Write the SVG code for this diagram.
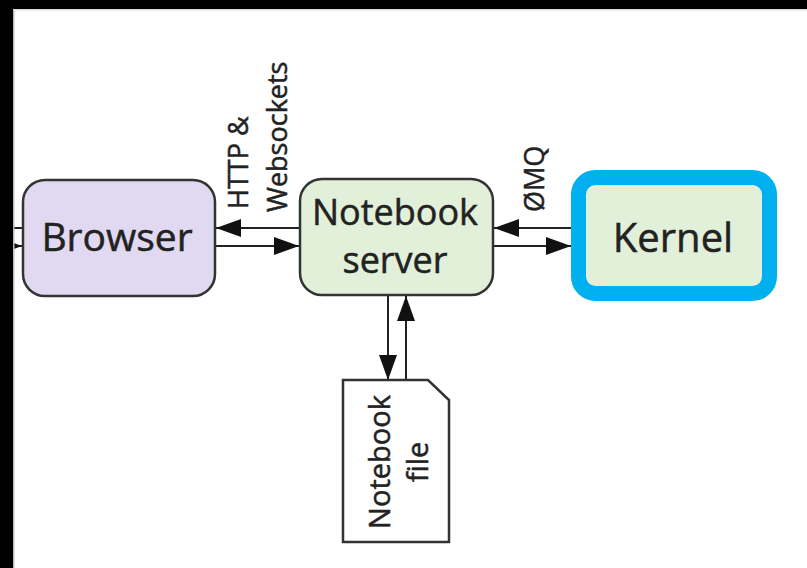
<svg xmlns="http://www.w3.org/2000/svg" width="807" height="568" viewBox="0 0 807 568">
  <style>
    text { font-family: "Open Sans", "DejaVu Sans", sans-serif; fill: #222; stroke: #222; stroke-width: 0.5; }
    .node { stroke: #333; stroke-width: 2.5; }
    .box-label { font-size: 39px; text-anchor: middle; }
    .edge-label { font-size: 27px; }
    .doc-label { font-size: 29px; text-anchor: middle; }
    .wire { stroke: #222; stroke-width: 2; fill: none; }
  </style>
  <defs>
    <marker id="arrow" viewBox="0 0 25 18" refX="25" refY="9" markerWidth="25" markerHeight="18" markerUnits="userSpaceOnUse" orient="auto">
      <path d="M0,0 L25,9 L0,18 Z" fill="#111"/>
    </marker>
  </defs>

  <rect x="0" y="0" width="807" height="568" fill="#fff"/>

  <g id="connectors">
    <!-- stubs leaving the left edge -->
    <line class="wire" x1="0" y1="228" x2="23" y2="228"/>
    <line class="wire" x1="-10" y1="246" x2="22" y2="246" marker-end="url(#arrow)"/>
    <!-- browser <-> notebook server -->
    <line class="wire" x1="300" y1="228" x2="216" y2="228" marker-end="url(#arrow)"/>
    <line class="wire" x1="215" y1="246" x2="299" y2="246" marker-end="url(#arrow)"/>
    <!-- notebook server <-> kernel -->
    <line class="wire" x1="571" y1="228" x2="494" y2="228" marker-end="url(#arrow)"/>
    <line class="wire" x1="493" y1="246" x2="571" y2="246" marker-end="url(#arrow)"/>
    <!-- notebook server <-> notebook file -->
    <line class="wire" x1="388" y1="295" x2="388" y2="380" marker-end="url(#arrow)"/>
    <line class="wire" x1="406" y1="380" x2="406" y2="296" marker-end="url(#arrow)"/>
    <text class="edge-label" transform="translate(248,209) rotate(-90)">HTTP &amp;</text>
    <text class="edge-label" transform="translate(287,212) rotate(-90)">Websockets</text>
    <text class="edge-label" transform="translate(544,212) rotate(-90)">ØMQ</text>
  </g>

  <g id="browser">
    <rect class="node" x="23" y="180" width="192" height="116" rx="22" fill="#e1d9f2"/>
    <text class="box-label" x="117" y="251">Browser</text>
  </g>

  <g id="notebook-server">
    <rect class="node" x="300" y="179" width="193" height="116" rx="22" fill="#e2efd9"/>
    <text class="box-label" x="395" y="225" style="font-size:36px">Notebook</text>
    <text class="box-label" x="395" y="273" style="font-size:36px">server</text>
  </g>

  <g id="kernel">
    <rect x="578.5" y="177.5" width="191" height="116" rx="17" fill="#e2efd9" stroke="#00b0ef" stroke-width="15"/>
    <text class="box-label" x="673" y="252" style="font-size:40px">Kernel</text>
  </g>

  <g id="notebook-file">
    <path class="node" d="M343,380 L428,380 L449,400 L449,542 L343,542 Z" fill="#fff"/>
    <text class="doc-label" transform="translate(390,462) rotate(-90)">Notebook</text>
    <text class="doc-label" transform="translate(428,462) rotate(-90)">file</text>
  </g>

  <!-- dark frame along the top and left edges -->
  <rect x="0" y="0" width="807" height="9" fill="#000"/>
  <rect x="0" y="9" width="807" height="1.5" fill="#ddd"/>
  <rect x="0" y="0" width="13" height="568" fill="#000"/>
  <rect x="13" y="10" width="1.5" height="558" fill="#bbb"/>
</svg>
